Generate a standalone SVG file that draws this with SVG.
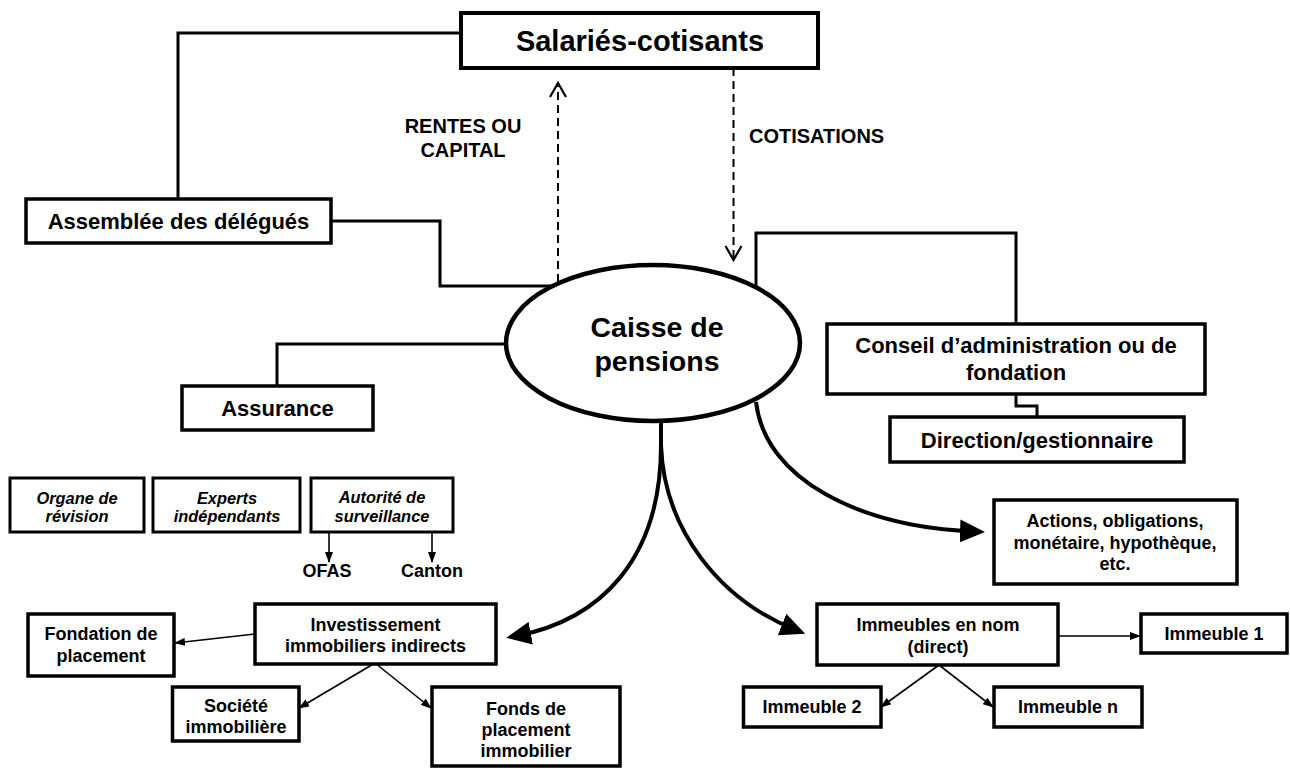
<svg xmlns="http://www.w3.org/2000/svg" width="1290" height="769" viewBox="0 0 1290 769">
<style>
text{font-family:"Liberation Sans",Arial,sans-serif;font-weight:bold;fill:#000;text-anchor:middle}
.box{fill:#fff;stroke:#000;stroke-width:3.5}
.sbox{fill:#fff;stroke:#000;stroke-width:3}
.link{fill:none;stroke:#000;stroke-width:3}
.dash{fill:none;stroke:#000;stroke-width:2;stroke-dasharray:8 5}
.chev{fill:none;stroke:#000;stroke-width:2.2}
.curve{fill:none;stroke:#000;stroke-width:4}
.thin{fill:none;stroke:#000;stroke-width:1.6}
.it{font-style:italic;font-size:16.4px}
.t18{font-size:18px}
.t22{font-size:22px}
.t20{font-size:20px}
</style>
<defs>
<marker id="big" viewBox="0 0 25 23" refX="15" refY="11.5" markerWidth="25" markerHeight="23" markerUnits="userSpaceOnUse" orient="auto">
<path d="M0,0 L25,11.5 L0,23 z" fill="#000"/>
</marker>
<marker id="small" viewBox="0 0 11 8" refX="10" refY="4" markerWidth="11" markerHeight="8" markerUnits="userSpaceOnUse" orient="auto">
<path d="M0,0 L11,4 L0,8 z" fill="#000"/>
</marker>
</defs>
<rect width="1290" height="769" fill="#fff"/>

<g id="connectors">
<path class="link" d="M461,33 H178 V199"/>
<path class="link" d="M331,221 H440 V286 H553"/>
<path class="link" d="M756,287 V233 H1016 V324"/>
<path class="link" d="M507,344 H277 V386"/>
<path class="link" d="M1016,394 V406 H1037 V417"/>
<path class="dash" d="M558,282 V86"/>
<path class="chev" d="M550,97 L558,83 L566,97"/>
<path class="dash" d="M733.5,68 V258"/>
<path class="chev" d="M725.5,246 L733.5,260 L741.5,246"/>
<path class="curve" d="M756,402 C765,480 860,527 975,531.5" marker-end="url(#big)"/>
<path class="curve" d="M661,418 V445 C661,560 600,620 516,636" marker-end="url(#big)"/>
<path class="curve" d="M661,445 C664,530 720,600 796,630" marker-end="url(#big)"/>
<path class="thin" d="M255,634 L175,643" marker-end="url(#small)"/>
<path class="thin" d="M375,663 L299,708" marker-end="url(#small)"/>
<path class="thin" d="M375,663 L431,708" marker-end="url(#small)"/>
<path class="thin" d="M1058,636 L1140,636" marker-end="url(#small)"/>
<path class="thin" d="M939,665 L881,707" marker-end="url(#small)"/>
<path class="thin" d="M939,665 L993,707" marker-end="url(#small)"/>
<path class="thin" d="M329,532 V562" marker-end="url(#small)"/>
<path class="thin" d="M432,532 V562" marker-end="url(#small)"/>
</g>

<g id="label-rentes">
<text x="463" y="133" class="t20">RENTES OU</text>
<text x="463" y="157" class="t20">CAPITAL</text>
</g>
<g id="label-cotisations">
<text x="749" y="143" class="t20" style="text-anchor:start">COTISATIONS</text>
</g>

<g id="salaries">
<rect class="box" x="461" y="13" width="357" height="55" style="stroke-width:4"/>
<text x="640" y="51" style="font-size:29px">Salariés-cotisants</text>
</g>

<g id="assemblee">
<rect class="box" x="26" y="199" width="305" height="44"/>
<text x="178.5" y="229" class="t22">Assemblée des délégués</text>
</g>

<g id="caisse">
<ellipse cx="653" cy="343" rx="147" ry="78" fill="#fff" stroke="#000" stroke-width="4.5"/>
<text x="657" y="337" style="font-size:28.5px">Caisse de</text>
<text x="657" y="371" style="font-size:28.5px">pensions</text>
</g>

<g id="assurance">
<rect class="box" x="182" y="386" width="191" height="44"/>
<text x="277.5" y="416" class="t22">Assurance</text>
</g>

<g id="conseil">
<rect class="box" x="827" y="324" width="378" height="70"/>
<text x="1016" y="353" class="t22">Conseil d’administration ou de</text>
<text x="1016" y="380" class="t22">fondation</text>
</g>

<g id="direction">
<rect class="box" x="890" y="417" width="294" height="45"/>
<text x="1037" y="447.5" class="t22">Direction/gestionnaire</text>
</g>

<g id="actions">
<rect class="box" x="994" y="500" width="243" height="84"/>
<text x="1115" y="527" class="t18">Actions, obligations,</text>
<text x="1115" y="549" class="t18">monétaire, hypothèque,</text>
<text x="1115" y="570" class="t18">etc.</text>
</g>

<g id="organe">
<rect class="sbox" x="10" y="478" width="134" height="54"/>
<text x="77" y="503.5" class="it">Organe de</text>
<text x="77" y="522" class="it">révision</text>
</g>

<g id="experts">
<rect class="sbox" x="153" y="478" width="147" height="54"/>
<text x="227" y="503.5" class="it">Experts</text>
<text x="227" y="522" class="it">indépendants</text>
</g>

<g id="autorite">
<rect class="sbox" x="311" y="478" width="142" height="54"/>
<text x="382" y="502.5" class="it">Autorité de</text>
<text x="382" y="521.5" class="it">surveillance</text>
</g>

<g id="ofas">
<text x="327" y="577" class="t18">OFAS</text>
</g>
<g id="canton">
<text x="432" y="577" class="t18">Canton</text>
</g>

<g id="investissement">
<rect class="box" x="255" y="604" width="241" height="60"/>
<text x="375.5" y="631" class="t18">Investissement</text>
<text x="375.5" y="652" class="t18">immobiliers indirects</text>
</g>

<g id="fondation">
<rect class="box" x="28" y="614" width="146" height="62"/>
<text x="101" y="640" class="t18">Fondation de</text>
<text x="101" y="662" class="t18">placement</text>
</g>

<g id="societe">
<rect class="box" x="172.5" y="687" width="126.5" height="54"/>
<text x="236" y="712" class="t18">Société</text>
<text x="236" y="733" class="t18">immobilière</text>
</g>

<g id="fonds">
<rect class="box" x="432" y="687" width="188" height="79"/>
<text x="526" y="715" class="t18">Fonds de</text>
<text x="526" y="736" class="t18">placement</text>
<text x="526" y="757" class="t18">immobilier</text>
</g>

<g id="immeubles">
<rect class="box" x="817" y="604" width="241" height="61"/>
<text x="938" y="631" class="t18">Immeubles en nom</text>
<text x="938" y="653" class="t18">(direct)</text>
</g>

<g id="immeuble1">
<rect class="box" x="1141" y="614" width="146" height="39"/>
<text x="1214" y="640" class="t18">Immeuble 1</text>
</g>

<g id="immeuble2">
<rect class="box" x="743.5" y="687" width="137.5" height="40"/>
<text x="812" y="713" class="t18">Immeuble 2</text>
</g>

<g id="immeublen">
<rect class="box" x="994" y="687" width="148" height="40"/>
<text x="1068" y="713" class="t18">Immeuble n</text>
</g>
</svg>
